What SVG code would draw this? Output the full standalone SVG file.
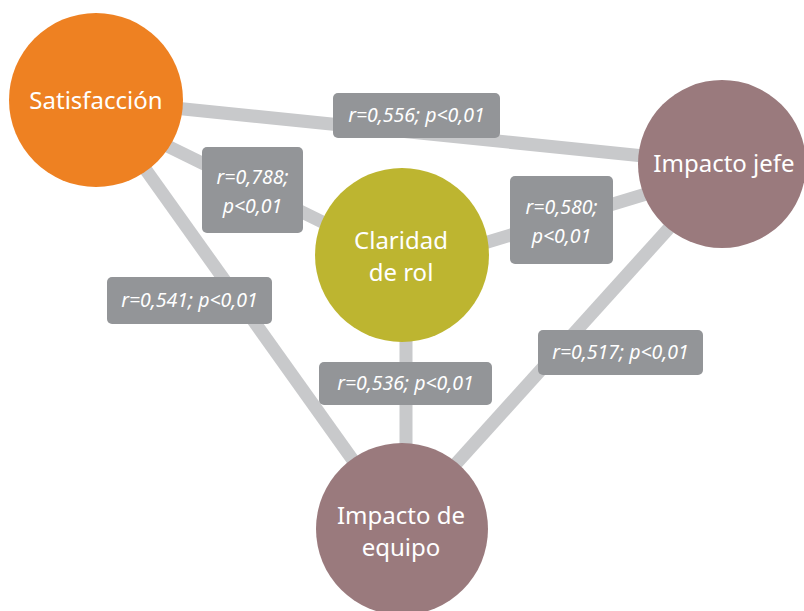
<svg xmlns="http://www.w3.org/2000/svg" width="804" height="611" viewBox="0 0 804 611">
<style>
.link{stroke:#c8c9cb;stroke-width:13;fill:none}
.node text{font-family:"Noto Sans","Liberation Sans",sans-serif;font-size:24px;fill:#ffffff;text-anchor:middle}
.lbl rect{fill:#939598}
.lbl text{font-family:"Noto Sans","Liberation Sans",sans-serif;font-style:italic;font-size:19.5px;fill:#ffffff;text-anchor:middle}
</style>
<rect width="804" height="611" fill="#ffffff"/>
<g id="connectors">
<line class="link" x1="96" y1="100" x2="722" y2="164"/>
<line class="link" x1="96" y1="111" x2="402" y2="261"/>
<line class="link" x1="96" y1="100" x2="402" y2="529"/>
<line class="link" x1="402" y1="268" x2="722" y2="171"/>
<line class="link" x1="406" y1="255" x2="406" y2="529"/>
<line class="link" x1="727" y1="164" x2="397" y2="529"/>
</g>
<g id="labels">
<g class="lbl" id="lbl-sat-jefe"><rect x="333" y="93" width="167" height="45" rx="5"/><text x="416.5" y="122">r=0,556; p&lt;0,01</text></g>
<g class="lbl" id="lbl-sat-clar"><rect x="202" y="147" width="101" height="86" rx="5"/><text x="252.5" y="184">r=0,788;</text><text x="252.5" y="213">p&lt;0,01</text></g>
<g class="lbl" id="lbl-clar-jefe"><rect x="510" y="176" width="103" height="88" rx="5"/><text x="561.5" y="214">r=0,580;</text><text x="561.5" y="243">p&lt;0,01</text></g>
<g class="lbl" id="lbl-sat-equipo"><rect x="107" y="277" width="165" height="47" rx="5"/><text x="189.5" y="307">r=0,541; p&lt;0,01</text></g>
<g class="lbl" id="lbl-clar-equipo"><rect x="319" y="362" width="173" height="43" rx="5"/><text x="405.5" y="390">r=0,536; p&lt;0,01</text></g>
<g class="lbl" id="lbl-jefe-equipo"><rect x="538" y="330" width="165" height="45" rx="5"/><text x="620.5" y="359">r=0,517; p&lt;0,01</text></g>
</g>
<g class="node" id="node-satisfaccion"><circle cx="96" cy="100" r="87" fill="#ee8122"/><text x="96" y="109">Satisfacción</text></g>
<g class="node" id="node-impacto-jefe"><circle cx="722" cy="164" r="84" fill="#9a7a7d"/><text x="724" y="172">Impacto jefe</text></g>
<g class="node" id="node-claridad"><circle cx="402" cy="255" r="87" fill="#bdb530"/><text x="401" y="249">Claridad</text><text x="401" y="281">de rol</text></g>
<g class="node" id="node-impacto-equipo"><circle cx="402" cy="529" r="86" fill="#9a7a7d"/><text x="401" y="524">Impacto de</text><text x="401" y="556">equipo</text></g>
</svg>
